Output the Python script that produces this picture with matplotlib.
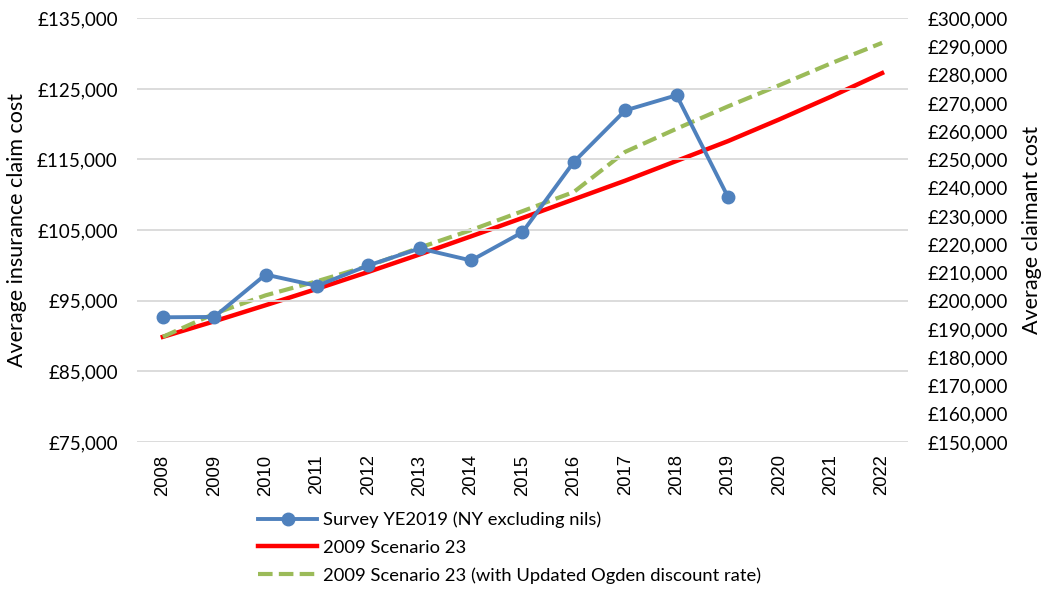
import matplotlib.pyplot as plt
from matplotlib.ticker import FuncFormatter

plt.rcParams['font.family'] = ['Lato', 'DejaVu Sans']

years = [str(y) for y in range(2008, 2023)]

# Survey YE2019 (left axis, average insurance claim cost)
survey = [92650, 92700, 98700, 97100, 100000, 102400, 100700, 104700,
          114650, 121950, 124100, 109700]

# Scenario curves (right axis, average claimant cost)
scenario23 = [187200, 192700, 198400, 204200, 210200, 216400, 222800, 229300,
              235900, 242500, 249500, 256500, 264200, 272200, 280600]
scenario23_ogden = [187200, 195400, 201900, 206900, 212300, 218800, 225000, 231700,
                    238500, 252700, 260900, 268800, 276300, 284000, 291300]

fig = plt.figure(figsize=(10.47, 5.90), dpi=100)
ax = fig.add_axes([0.131, 0.251, 0.736, 0.718])
ax2 = ax.twinx()

x = list(range(len(years)))

l1, = ax.plot(x[:len(survey)], survey, color='#4F81BD', lw=2.8, marker='o',
              markersize=9, zorder=3)
l2, = ax2.plot(x, scenario23, color='#FF0000', lw=3.2, zorder=2)
l3, = ax2.plot(x, scenario23_ogden, color='#9BBB59', lw=3.0, ls=(0, (3.5, 1.5)),
               zorder=2)

ax.set_zorder(ax2.get_zorder() + 1)
ax.patch.set_visible(False)

ax.set_xlim(-0.5, len(years) - 0.5)
ax.set_ylim(75000, 135000)
ax.set_yticks(range(75000, 135001, 10000))
ax2.set_ylim(150000, 300000)
ax2.set_yticks(range(150000, 300001, 10000))

fmt = FuncFormatter(lambda v, p: '£{:,.0f}'.format(v))
ax.yaxis.set_major_formatter(fmt)
ax2.yaxis.set_major_formatter(fmt)

ax.set_xticks(x)
ax.set_xticklabels(years, rotation=90, fontsize=13.3, family='Liberation Sans')
ax.tick_params(axis='y', labelsize=13.5, length=0, pad=14)
ax2.tick_params(axis='y', labelsize=13.5, length=0, pad=14)
ax.tick_params(axis='x', length=0, pad=9)

ax.grid(axis='y', color='#D9D9D9', lw=1.3)
ax.set_axisbelow(True)
for a in (ax, ax2):
    for s in a.spines.values():
        s.set_visible(False)

ax.set_ylabel('Average insurance claim cost', fontsize=15.5)
ax.yaxis.set_label_coords(-0.143, 0.5)
ax2.set_ylabel('Average claimant cost', fontsize=15.5)
ax2.yaxis.set_label_coords(1.148, 0.5)

fig.legend([l1, l2, l3],
           ['Survey YE2019 (NY excluding nils)', '2009 Scenario 23',
            '2009 Scenario 23 (with Updated Ogden discount rate)'],
           loc='upper left', bbox_to_anchor=(0.238, 0.148), frameon=False,
           fontsize=13.2, handlelength=3.2, handletextpad=0.3,
           labelspacing=0.62, borderpad=0)

fig.savefig('out.png', dpi=100)
